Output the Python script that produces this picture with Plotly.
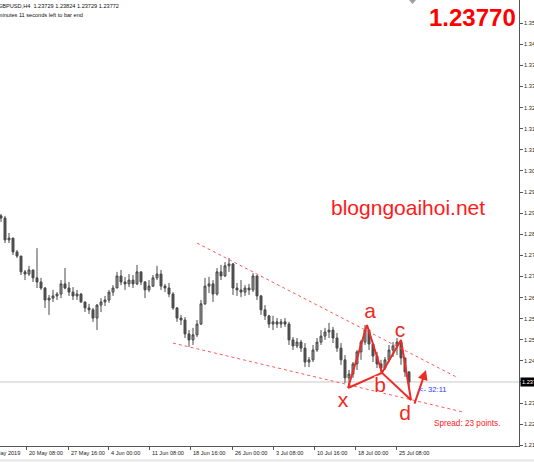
import plotly.graph_objects as go

# ---------------- data (GBPUSD H4) ----------------
open_ = [1.2902, 1.2895, 1.2826, 1.2832, 1.2788, 1.2775, 1.2725, 1.2718, 1.2731, 1.2706,
         1.2693, 1.2674, 1.2636, 1.2642, 1.2649, 1.2655, 1.2687, 1.2674, 1.2661, 1.2649,
         1.2655, 1.2630, 1.2611, 1.2605, 1.2579, 1.2620, 1.2630, 1.2636, 1.2661, 1.2674,
         1.2712, 1.2693, 1.2687, 1.2699, 1.2687, 1.2725, 1.2693, 1.2668, 1.2680, 1.2706,
         1.2718, 1.2680, 1.2674, 1.2655, 1.2611, 1.2579, 1.2573, 1.2529, 1.2510, 1.2526,
         1.2560, 1.2624, 1.2680, 1.2687, 1.2655, 1.2725, 1.2712, 1.2744, 1.2750, 1.2674,
         1.2668, 1.2661, 1.2674, 1.2668, 1.2712, 1.2649, 1.2605, 1.2586, 1.2560, 1.2567,
         1.2560, 1.2567, 1.2560, 1.2510, 1.2491, 1.2503, 1.2484, 1.2440, 1.2447, 1.2478,
         1.2503, 1.2522, 1.2535, 1.2541, 1.2516, 1.2484, 1.2447, 1.2390, 1.2402, 1.2434,
         1.2472, 1.2503, 1.2541, 1.2497, 1.2459, 1.2434, 1.2421, 1.2447, 1.2478, 1.2491,
         1.2503, 1.2453, 1.2409]
high = [1.2908, 1.2902, 1.2848, 1.2832, 1.2794, 1.2775, 1.2731, 1.2744, 1.2731, 1.2800,
        1.2706, 1.2677, 1.2652, 1.2668, 1.2661, 1.2699, 1.2737, 1.2693, 1.2677, 1.2668,
        1.2658, 1.2630, 1.2624, 1.2611, 1.2623, 1.2642, 1.2649, 1.2668, 1.2683, 1.2725,
        1.2731, 1.2709, 1.2718, 1.2715, 1.2747, 1.2725, 1.2696, 1.2699, 1.2715, 1.2744,
        1.2731, 1.2687, 1.2690, 1.2661, 1.2614, 1.2589, 1.2582, 1.2541, 1.2548, 1.2573,
        1.2636, 1.2706, 1.2709, 1.2699, 1.2737, 1.2747, 1.2756, 1.2769, 1.2753, 1.2690,
        1.2699, 1.2683, 1.2687, 1.2721, 1.2715, 1.2652, 1.2620, 1.2589, 1.2586, 1.2579,
        1.2576, 1.2579, 1.2567, 1.2519, 1.2516, 1.2510, 1.2500, 1.2456, 1.2494, 1.2516,
        1.2541, 1.2548, 1.2564, 1.2551, 1.2532, 1.2500, 1.2462, 1.2415, 1.2440, 1.2478,
        1.2510, 1.2557, 1.2541, 1.2500, 1.2472, 1.2447, 1.2456, 1.2494, 1.2503, 1.2516,
        1.2506, 1.2453, 1.2409]
low = [1.2883, 1.2816, 1.2816, 1.2778, 1.2769, 1.2715, 1.2699, 1.2712, 1.2693, 1.2674,
       1.2668, 1.2611, 1.2589, 1.2630, 1.2636, 1.2642, 1.2670, 1.2649, 1.2636, 1.2636,
       1.2627, 1.2598, 1.2592, 1.2567, 1.2541, 1.2598, 1.2617, 1.2627, 1.2649, 1.2674,
       1.2683, 1.2668, 1.2677, 1.2674, 1.2683, 1.2683, 1.2642, 1.2661, 1.2677, 1.2699,
       1.2668, 1.2661, 1.2645, 1.2605, 1.2567, 1.2557, 1.2516, 1.2488, 1.2494, 1.2519,
       1.2557, 1.2620, 1.2658, 1.2630, 1.2650, 1.2699, 1.2709, 1.2725, 1.2652, 1.2649,
       1.2645, 1.2649, 1.2652, 1.2661, 1.2636, 1.2589, 1.2573, 1.2548, 1.2541, 1.2548,
       1.2548, 1.2551, 1.2494, 1.2478, 1.2484, 1.2472, 1.2424, 1.2424, 1.2440, 1.2472,
       1.2494, 1.2510, 1.2516, 1.2500, 1.2472, 1.2431, 1.2374, 1.2361, 1.2390, 1.2415,
       1.2447, 1.2494, 1.2478, 1.2440, 1.2421, 1.2405, 1.2415, 1.2440, 1.2456, 1.2462,
       1.2431, 1.2393, 1.2361]
close = [1.2895, 1.2826, 1.2832, 1.2788, 1.2775, 1.2725, 1.2718, 1.2731, 1.2706, 1.2693,
         1.2674, 1.2636, 1.2642, 1.2649, 1.2655, 1.2687, 1.2674, 1.2661, 1.2649, 1.2655,
         1.2630, 1.2611, 1.2605, 1.2579, 1.2620, 1.2630, 1.2636, 1.2661, 1.2674, 1.2712,
         1.2693, 1.2687, 1.2699, 1.2687, 1.2725, 1.2693, 1.2668, 1.2680, 1.2706, 1.2718,
         1.2680, 1.2674, 1.2655, 1.2611, 1.2579, 1.2573, 1.2529, 1.2510, 1.2526, 1.2560,
         1.2624, 1.2680, 1.2687, 1.2655, 1.2725, 1.2712, 1.2744, 1.2750, 1.2674, 1.2668,
         1.2661, 1.2674, 1.2668, 1.2712, 1.2649, 1.2605, 1.2586, 1.2560, 1.2567, 1.2560,
         1.2567, 1.2560, 1.2510, 1.2491, 1.2503, 1.2484, 1.2440, 1.2447, 1.2478, 1.2503,
         1.2522, 1.2535, 1.2541, 1.2516, 1.2484, 1.2447, 1.2390, 1.2402, 1.2434, 1.2472,
         1.2503, 1.2541, 1.2497, 1.2459, 1.2434, 1.2421, 1.2447, 1.2478, 1.2491, 1.2503,
         1.2453, 1.2409, 1.2377]

# time-axis labels and their bar positions
time_labels = ["13 May 2019", "20 May 08:00", "27 May 16:00", "4 Jun 00:00", "11 Jun 08:00",
               "18 Jun 16:00", "26 Jun 00:00", "3 Jul 08:00", "10 Jul 16:00", "18 Jul 00:00",
               "25 Jul 08:00"]
time_pos = [-4.0, 6.25, 16.75, 26.75, 37.0, 47.25, 57.75, 68.0, 78.25, 88.5, 98.75]

# price scale
price_ticks = [1.21769, 1.22436, 1.23103, 1.23770, 1.24437, 1.25104, 1.25771, 1.26438,
               1.27105, 1.27772, 1.28439, 1.29106, 1.29773, 1.30440, 1.31107, 1.31774,
               1.32441, 1.33108, 1.33775, 1.34442, 1.35109]
current_price = 1.23770

# channel lines (bar position, price)
upper_line_x = [49.0, 114.25]
upper_line_y = [1.2816, 1.2390]
lower_line_x = [43.0, 115.5]
lower_line_y = [1.2500, 1.2282]

# XABCD pattern points
pat_names = ["x", "a", "b", "c", "d"]
pat_x = [86.75, 91.5, 95.25, 100.0, 102.5]
pat_y = [1.2358, 1.2557, 1.2406, 1.2510, 1.2320]
label_x = [85.5, 92.25, 94.75, 99.75, 101.0]
label_y = [1.2314, 1.2595, 1.2361, 1.2535, 1.2273]
arrow_from = (103.25, 1.2304)
arrow_to = (106.25, 1.2415)

# ---------------- figure ----------------
XMIN, XMAX = -0.25, 129.5
YMIN, YMAX = 1.21747, 1.35841
W, H = 534, 462
ML, MR, MT, MB = 0, 15, 0, 16
PW, PH = W - ML - MR, H - MT - MB


def px_x(p):
    return p / PW


def px_y(p):
    return 1 - p / PH


def bar_paper(i):
    return (i - XMIN) / (XMAX - XMIN)


RED = "#ee2a24"
FONT = "Liberation Sans, Arial, sans-serif"

fig = go.Figure()

idx = list(range(len(close)))
fig.add_trace(go.Candlestick(
    x=idx, open=open_, high=high, low=low, close=close,
    increasing=dict(line=dict(color="#4a4a4a", width=1), fillcolor="#9a9a9a"),
    decreasing=dict(line=dict(color="#4a4a4a", width=1), fillcolor="#505050"),
    whiskerwidth=0, showlegend=False, hoverinfo="skip",
))

# channel (dotted)
fig.add_trace(go.Scatter(x=upper_line_x, y=upper_line_y, mode="lines",
                         line=dict(color="#ff5a5a", width=1, dash="dot"),
                         showlegend=False, hoverinfo="skip"))
fig.add_trace(go.Scatter(x=lower_line_x, y=lower_line_y, mode="lines",
                         line=dict(color="#ff5a5a", width=1, dash="dot"),
                         showlegend=False, hoverinfo="skip"))

# pattern lines: X-a-b-c-d, d-b, b-X
order = [0, 1, 2, 3, 4, 2, 0]
fig.add_trace(go.Scatter(x=[pat_x[i] for i in order], y=[pat_y[i] for i in order],
                         mode="lines", line=dict(color=RED, width=2),
                         showlegend=False, hoverinfo="skip"))

# pattern letters
halo = "1px 1px 1px #fff, -1px -1px 1px #fff, 1px -1px 1px #fff, -1px 1px 1px #fff"
fig.add_trace(go.Scatter(x=label_x, y=label_y, mode="text", text=pat_names,
                         textfont=dict(family=FONT, size=21, color=RED, shadow=halo),
                         showlegend=False, hoverinfo="skip"))

shapes = [
    dict(type="line", xref="paper", yref="y", x0=0, x1=1, y0=current_price, y1=current_price,
         line=dict(color="#c8c8c8", width=1), layer="below"),
    dict(type="path", xref="paper", yref="paper",
         path=f"M {px_x(409)} 1 L {px_x(416)} 1 L {px_x(412.5)} {px_y(4)} Z",
         fillcolor="#a0a0a0", line=dict(width=0)),
    dict(type="rect", xref="paper", yref="paper", x0=0, x1=W / PW,
         y0=px_y(462), y1=px_y(459),
         fillcolor="#ececec", line=dict(width=0)),
]

ann = []
# arrow
ann.append(dict(x=arrow_to[0], y=arrow_to[1], ax=arrow_from[0], ay=arrow_from[1],
                xref="x", yref="y", axref="x", ayref="y", text="", showarrow=True,
                arrowhead=2, arrowsize=1, arrowwidth=2, arrowcolor=RED))
# time labels
for lab, pos in zip(time_labels, time_pos):
    ann.append(dict(x=bar_paper(pos), y=0, xref="paper", yref="paper", text=lab,
                    showarrow=False, xanchor="left", yanchor="top", xshift=1, yshift=-2,
                    font=dict(family=FONT, size=5.6, color="#222")))
# header lines
ann.append(dict(x=px_x(-4.5), y=px_y(6), xref="paper", yref="paper",
                text="GBPUSD,H4  1.23729 1.23824 1.23729 1.23772", showarrow=False,
                xanchor="left", yanchor="middle", font=dict(family=FONT, size=5.6, color="#111")))
ann.append(dict(x=px_x(-12.5), y=px_y(15), xref="paper", yref="paper",
                text="32 minutes 11 seconds left to bar end", showarrow=False,
                xanchor="left", yanchor="middle", font=dict(family=FONT, size=5.6, color="#111")))
# big price
ann.append(dict(x=px_x(518), y=px_y(17), xref="paper", yref="paper", text="<b>1.23770</b>",
                showarrow=False, xanchor="right", yanchor="middle",
                font=dict(family=FONT, size=24, color="#ff0000")))
# watermark
ann.append(dict(x=px_x(408), y=px_y(207), xref="paper", yref="paper", text="blogngoaihoi.net",
                showarrow=False, xanchor="center", yanchor="middle",
                font=dict(family=FONT, size=21, color="#ff1a1a")))
# countdown & spread
ann.append(dict(x=px_x(417), y=px_y(389), xref="paper", yref="paper", text="&lt;- 32:11",
                showarrow=False, xanchor="left", yanchor="middle",
                font=dict(family=FONT, size=7.6, color="#3535ff")))
ann.append(dict(x=px_x(432), y=px_y(423), xref="paper", yref="paper", text="Spread: 23 points.",
                showarrow=False, xanchor="left", yanchor="middle",
                font=dict(family=FONT, size=8.2, color="#ff1a1a")))
# current price box on the scale
ann.append(dict(x=1, y=current_price, xref="paper", yref="y", text="1.23770", showarrow=False,
                xanchor="left", yanchor="middle", xshift=1, bgcolor="#000000", borderpad=1,
                font=dict(family=FONT, size=5.6, color="#ffffff")))

tick_text = ["" if abs(v - current_price) < 1e-6 else f"{v:.5f}" for v in price_ticks]

fig.update_layout(
    width=W, height=H, margin=dict(l=ML, r=MR, t=MT, b=MB),
    paper_bgcolor="white", plot_bgcolor="white", template="none",
    showlegend=False, shapes=shapes, annotations=ann,
    xaxis=dict(range=[XMIN, XMAX], showgrid=False, zeroline=False, showline=True,
               linecolor="#555", linewidth=1, ticks="outside", ticklen=3, tickcolor="#555",
               tickvals=time_pos, showticklabels=False, rangeslider=dict(visible=False),
               fixedrange=True),
    yaxis=dict(range=[YMIN, YMAX], side="right", showgrid=False, zeroline=False,
               showline=True, linecolor="#555", linewidth=1, ticks="outside", ticklen=3,
               tickcolor="#555", tickvals=price_ticks, ticktext=tick_text,
               tickfont=dict(family=FONT, size=5.6, color="#222"), automargin=False,
               fixedrange=True),
)

fig.write_html("out.html", config={"displayModeBar": False},
               post_script="document.body.style.margin='0';document.body.style.overflow='hidden';")
